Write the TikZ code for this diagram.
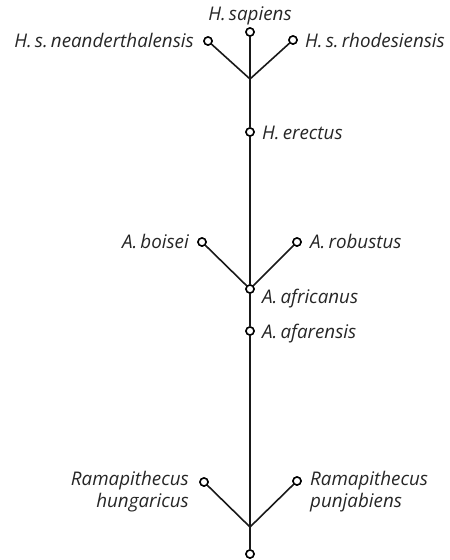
\documentclass[tikz,border=0pt]{standalone}
\usepackage{fontspec}
\setmainfont{Open Sans}
\begin{document}
\begin{tikzpicture}[x=1pt,y=-1pt,
  dot/.style={circle,draw=black,fill=white,line width=1.5pt,inner sep=0pt,minimum size=8pt},
  edge/.style={line width=1.6pt,draw=black!90},
  lbl/.style={font=\itshape\fontsize{18.8}{22}\selectfont,inner sep=0pt,text=black!85}]
\useasboundingbox (0,0) rectangle (450,560);
\coordinate (j1) at (250,79);
\coordinate (j3) at (250,527);
\node[dot] (sap) at (250,32) {};
\node[dot] (nea) at (208,41) {};
\node[dot] (rho) at (293,40) {};
\node[dot] (ere) at (250,132) {};
\node[dot] (boi) at (202,242) {};
\node[dot] (rob) at (297,242) {};
\node[dot] (afr) at (250,289) {};
\node[dot] (afa) at (250,331) {};
\node[dot] (hun) at (204,482) {};
\node[dot] (pun) at (297,481) {};
\node[dot] (bot) at (250,554) {};
\draw[edge] (sap) -- (ere);
\draw[edge] (nea) -- (j1) -- (rho);
\draw[edge] (ere) -- (afr);
\draw[edge] (boi) -- (afr) -- (rob);
\draw[edge] (afr) -- (afa) -- (bot);
\draw[edge] (hun) -- (j3) -- (pun);
\foreach \n in {sap,nea,rho,ere,boi,rob,afr,afa,hun,pun,bot}
  \node[dot] at (\n) {};
\node[lbl,anchor=base] (tsap) at (250,20) {H.\,sapiens};
\node[lbl,anchor=base east] (tnea) at (194,47) {H.\,s.\,neanderthalensis};
\node[lbl,anchor=base west] (trho) at (305,47) {H.\,s.\,rhodesiensis};
\node[lbl,anchor=base west] (tere) at (262,139) {H.\,erectus};
\node[lbl,anchor=base east] (tboi) at (189,248) {A.\,boisei};
\node[lbl,anchor=base west] (trob) at (310,248) {A.\,robustus};
\node[lbl,anchor=base west] (tafr) at (262,303) {A.\,africanus};
\node[lbl,anchor=base west] (tafa) at (262,338) {A.\,afarensis};
\node[lbl,anchor=north east,align=right] (thun) at (189,471) {Ramapithecus\\hungaricus};
\node[lbl,anchor=north west,align=left] (tpun) at (310,471) {Ramapithecus\\punjabiens};
\end{tikzpicture}
\end{document}
